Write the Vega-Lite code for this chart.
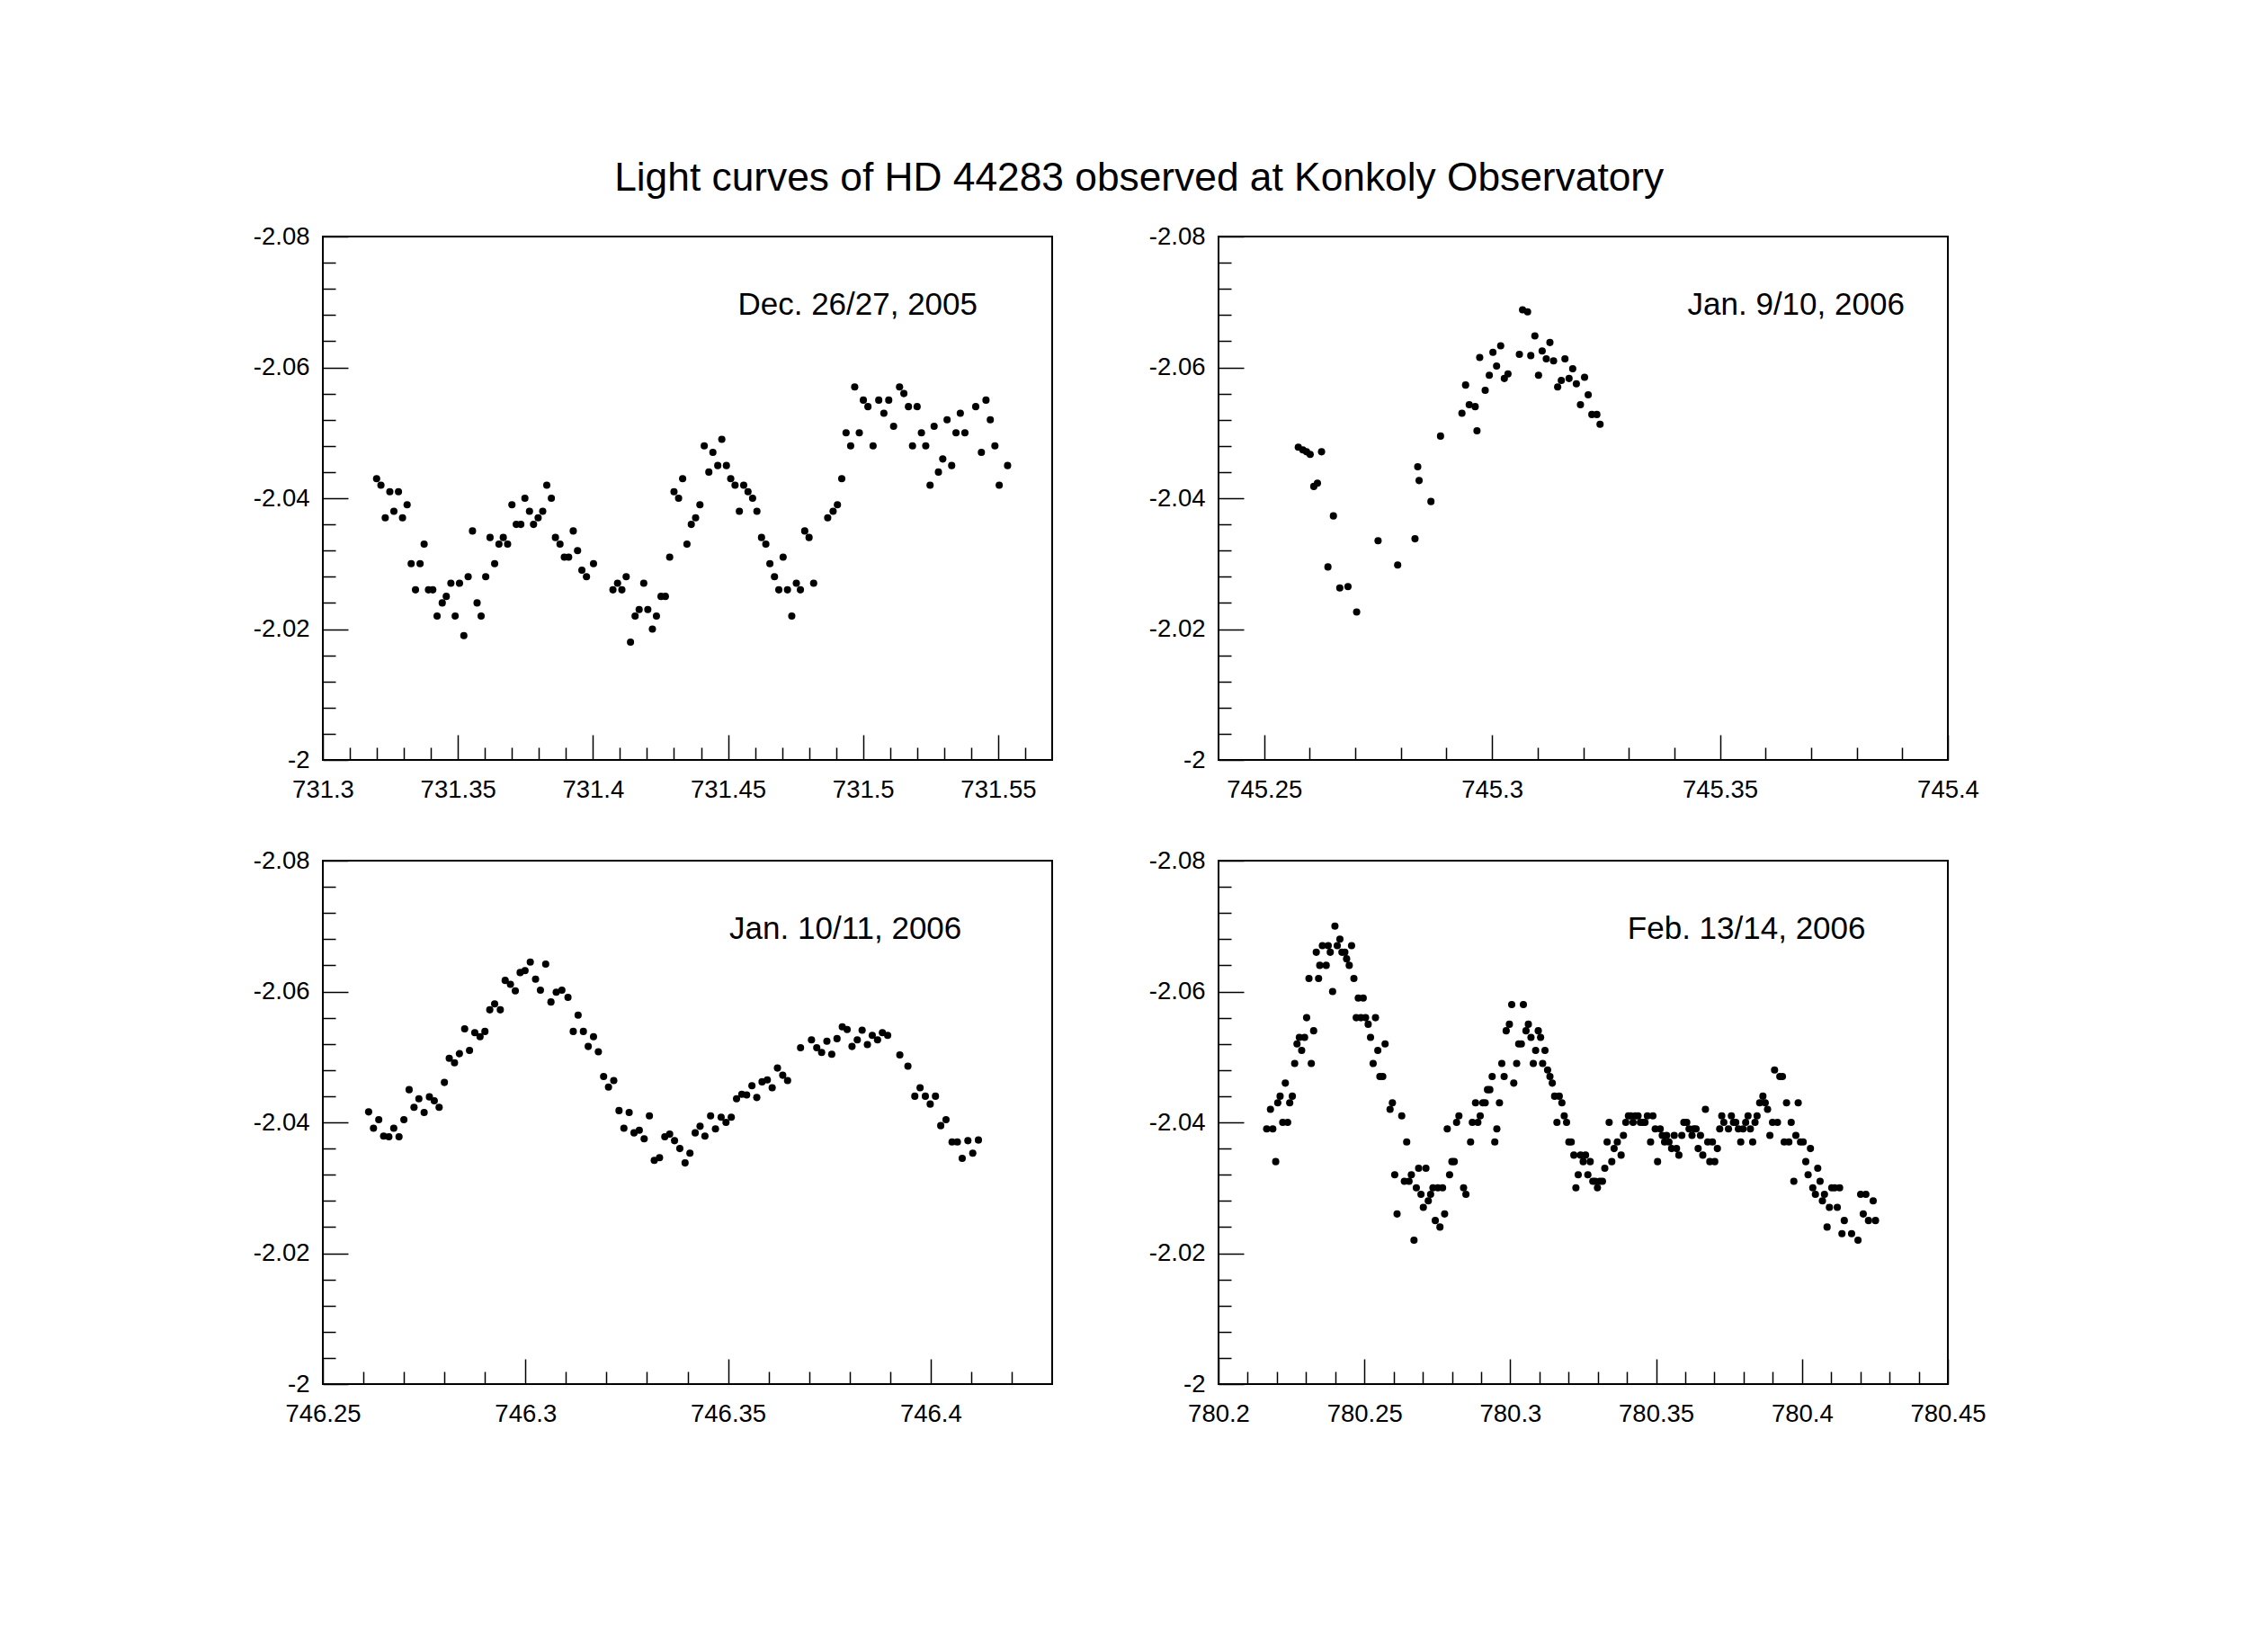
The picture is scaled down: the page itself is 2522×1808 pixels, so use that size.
{
"$schema": "https://vega.github.io/schema/vega-lite/v6.json",
"background": "white",
"padding": {"left": 280, "top": 176, "right": 10, "bottom": 10},
"title": {"text": "Light curves of HD 44283 observed at Konkoly Observatory", "fontSize": 44.3, "fontWeight": "normal", "font": "Liberation Sans", "color": "black", "anchor": "middle", "offset": 27, "dx": 22},
"bounds": "flush",
"columns": 2,
"spacing": {"row": 112, "column": 185},
"datasets": {
"p1": [
{"t":731.3199,"m":-2.043},{"t":731.3215,"m":-2.042},{"t":731.3231,"m":-2.037},{"t":731.3248,"m":-2.041},{"t":731.3263,"m":-2.038},{"t":731.3280,"m":-2.041},{"t":731.3295,"m":-2.037},{"t":731.3312,"m":-2.039},{"t":731.3327,"m":-2.030},{"t":731.3343,"m":-2.026},{"t":731.3360,"m":-2.030},{"t":731.3375,"m":-2.033},{"t":731.3391,"m":-2.026},{"t":731.3407,"m":-2.026},{"t":731.3423,"m":-2.022},{"t":731.3442,"m":-2.024},{"t":731.3457,"m":-2.025},{"t":731.3474,"m":-2.027},{"t":731.3490,"m":-2.022},{"t":731.3506,"m":-2.027},{"t":731.3522,"m":-2.019},{"t":731.3538,"m":-2.028},{"t":731.3554,"m":-2.035},{"t":731.3571,"m":-2.024},{"t":731.3586,"m":-2.022},{"t":731.3603,"m":-2.028},{"t":731.3619,"m":-2.034},{"t":731.3636,"m":-2.030},{"t":731.3652,"m":-2.033},{"t":731.3668,"m":-2.034},{"t":731.3684,"m":-2.033},{"t":731.3700,"m":-2.039},{"t":731.3716,"m":-2.036},{"t":731.3733,"m":-2.036},{"t":731.3748,"m":-2.040},{"t":731.3765,"m":-2.038},{"t":731.3780,"m":-2.036},{"t":731.3797,"m":-2.037},{"t":731.3814,"m":-2.038},{"t":731.3829,"m":-2.042},{"t":731.3846,"m":-2.040},{"t":731.3861,"m":-2.034},{"t":731.3878,"m":-2.033},{"t":731.3894,"m":-2.031},{"t":731.3910,"m":-2.031},{"t":731.3927,"m":-2.035},{"t":731.3943,"m":-2.032},{"t":731.3959,"m":-2.029},{"t":731.3976,"m":-2.028},{"t":731.4002,"m":-2.030},{"t":731.4074,"m":-2.026},{"t":731.4091,"m":-2.027},{"t":731.4107,"m":-2.026},{"t":731.4123,"m":-2.028},{"t":731.4139,"m":-2.018},{"t":731.4156,"m":-2.022},{"t":731.4171,"m":-2.023},{"t":731.4188,"m":-2.027},{"t":731.4203,"m":-2.023},{"t":731.4220,"m":-2.020},{"t":731.4235,"m":-2.022},{"t":731.4252,"m":-2.025},{"t":731.4268,"m":-2.025},{"t":731.4284,"m":-2.031},{"t":731.4300,"m":-2.041},{"t":731.4317,"m":-2.040},{"t":731.4332,"m":-2.043},{"t":731.4348,"m":-2.033},{"t":731.4364,"m":-2.036},{"t":731.4380,"m":-2.037},{"t":731.4396,"m":-2.039},{"t":731.4412,"m":-2.048},{"t":731.4429,"m":-2.044},{"t":731.4444,"m":-2.047},{"t":731.4462,"m":-2.045},{"t":731.4477,"m":-2.049},{"t":731.4494,"m":-2.045},{"t":731.4510,"m":-2.043},{"t":731.4526,"m":-2.042},{"t":731.4542,"m":-2.038},{"t":731.4558,"m":-2.042},{"t":731.4574,"m":-2.041},{"t":731.4591,"m":-2.040},{"t":731.4607,"m":-2.038},{"t":731.4624,"m":-2.034},{"t":731.4640,"m":-2.033},{"t":731.4655,"m":-2.030},{"t":731.4672,"m":-2.028},{"t":731.4688,"m":-2.026},{"t":731.4704,"m":-2.031},{"t":731.4720,"m":-2.026},{"t":731.4736,"m":-2.022},{"t":731.4753,"m":-2.027},{"t":731.4768,"m":-2.026},{"t":731.4784,"m":-2.035},{"t":731.4800,"m":-2.034},{"t":731.4817,"m":-2.027},{"t":731.4869,"m":-2.037},{"t":731.4889,"m":-2.038},{"t":731.4905,"m":-2.039},{"t":731.4921,"m":-2.043},{"t":731.4937,"m":-2.050},{"t":731.4954,"m":-2.048},{"t":731.4969,"m":-2.057},{"t":731.4986,"m":-2.050},{"t":731.5001,"m":-2.055},{"t":731.5018,"m":-2.054},{"t":731.5037,"m":-2.048},{"t":731.5058,"m":-2.055},{"t":731.5077,"m":-2.053},{"t":731.5095,"m":-2.055},{"t":731.5113,"m":-2.051},{"t":731.5135,"m":-2.057},{"t":731.5151,"m":-2.056},{"t":731.5168,"m":-2.054},{"t":731.5183,"m":-2.048},{"t":731.5200,"m":-2.054},{"t":731.5216,"m":-2.050},{"t":731.5232,"m":-2.048},{"t":731.5248,"m":-2.042},{"t":731.5263,"m":-2.051},{"t":731.5279,"m":-2.044},{"t":731.5295,"m":-2.046},{"t":731.5311,"m":-2.052},{"t":731.5328,"m":-2.045},{"t":731.5344,"m":-2.050},{"t":731.5360,"m":-2.053},{"t":731.5377,"m":-2.050},{"t":731.5417,"m":-2.054},{"t":731.5438,"m":-2.047},{"t":731.5455,"m":-2.055},{"t":731.5471,"m":-2.052},{"t":731.5488,"m":-2.048},{"t":731.5504,"m":-2.042},{"t":731.5535,"m":-2.045}
],
"p2": [
{"t":745.2575,"m":-2.0478},{"t":745.2585,"m":-2.0474},{"t":745.2593,"m":-2.0471},{"t":745.2601,"m":-2.0467},{"t":745.2609,"m":-2.0418},{"t":745.2617,"m":-2.0423},{"t":745.2626,"m":-2.0471},{"t":745.2640,"m":-2.0295},{"t":745.2652,"m":-2.0373},{"t":745.2666,"m":-2.0263},{"t":745.2684,"m":-2.0265},{"t":745.2703,"m":-2.0226},{"t":745.2750,"m":-2.0335},{"t":745.2793,"m":-2.0298},{"t":745.2831,"m":-2.0338},{"t":745.2837,"m":-2.0448},{"t":745.2840,"m":-2.0427},{"t":745.2866,"m":-2.0395},{"t":745.2887,"m":-2.0495},{"t":745.2934,"m":-2.0530},{"t":745.2942,"m":-2.0573},{"t":745.2950,"m":-2.0543},{"t":745.2963,"m":-2.0540},{"t":745.2967,"m":-2.0503},{"t":745.2973,"m":-2.0615},{"t":745.2985,"m":-2.0565},{"t":745.2994,"m":-2.0588},{"t":745.3002,"m":-2.0623},{"t":745.3010,"m":-2.0602},{"t":745.3019,"m":-2.0633},{"t":745.3027,"m":-2.0583},{"t":745.3035,"m":-2.0590},{"t":745.3060,"m":-2.0620},{"t":745.3067,"m":-2.0688},{"t":745.3078,"m":-2.0685},{"t":745.3085,"m":-2.0618},{"t":745.3094,"m":-2.0648},{"t":745.3102,"m":-2.0588},{"t":745.3110,"m":-2.0625},{"t":745.3119,"m":-2.0613},{"t":745.3127,"m":-2.0638},{"t":745.3135,"m":-2.0610},{"t":745.3144,"m":-2.0570},{"t":745.3152,"m":-2.0580},{"t":745.3160,"m":-2.0613},{"t":745.3169,"m":-2.0583},{"t":745.3177,"m":-2.0598},{"t":745.3185,"m":-2.0575},{"t":745.3194,"m":-2.0543},{"t":745.3203,"m":-2.0585},{"t":745.3211,"m":-2.0558},{"t":745.3219,"m":-2.0528},{"t":745.3230,"m":-2.0528},{"t":745.3237,"m":-2.0513}
],
"p3": [
{"t":746.2613,"m":-2.0416},{"t":746.2625,"m":-2.0391},{"t":746.2638,"m":-2.0404},{"t":746.2650,"m":-2.0379},{"t":746.2663,"m":-2.0378},{"t":746.2675,"m":-2.0391},{"t":746.2688,"m":-2.0378},{"t":746.2700,"m":-2.0404},{"t":746.2713,"m":-2.0450},{"t":746.2725,"m":-2.0423},{"t":746.2737,"m":-2.0436},{"t":746.2750,"m":-2.0415},{"t":746.2763,"m":-2.0439},{"t":746.2775,"m":-2.0433},{"t":746.2787,"m":-2.0423},{"t":746.2800,"m":-2.0461},{"t":746.2812,"m":-2.0498},{"t":746.2825,"m":-2.0491},{"t":746.2837,"m":-2.0505},{"t":746.2850,"m":-2.0543},{"t":746.2862,"m":-2.0510},{"t":746.2875,"m":-2.0537},{"t":746.2888,"m":-2.0531},{"t":746.2900,"m":-2.0539},{"t":746.2912,"m":-2.0572},{"t":746.2924,"m":-2.0581},{"t":746.2938,"m":-2.0572},{"t":746.2950,"m":-2.0617},{"t":746.2963,"m":-2.0611},{"t":746.2975,"m":-2.0601},{"t":746.2987,"m":-2.0629},{"t":746.2999,"m":-2.0632},{"t":746.3012,"m":-2.0645},{"t":746.3025,"m":-2.0619},{"t":746.3037,"m":-2.0602},{"t":746.3050,"m":-2.0642},{"t":746.3063,"m":-2.0584},{"t":746.3076,"m":-2.0599},{"t":746.3090,"m":-2.0602},{"t":746.3105,"m":-2.0591},{"t":746.3118,"m":-2.0539},{"t":746.3130,"m":-2.0564},{"t":746.3143,"m":-2.0539},{"t":746.3155,"m":-2.0516},{"t":746.3168,"m":-2.0531},{"t":746.3180,"m":-2.0508},{"t":746.3193,"m":-2.0470},{"t":746.3205,"m":-2.0454},{"t":746.3218,"m":-2.0464},{"t":746.3231,"m":-2.0418},{"t":746.3243,"m":-2.0391},{"t":746.3256,"m":-2.0415},{"t":746.3268,"m":-2.0384},{"t":746.3281,"m":-2.0388},{"t":746.3293,"m":-2.0375},{"t":746.3306,"m":-2.0410},{"t":746.3318,"m":-2.0342},{"t":746.3331,"m":-2.0346},{"t":746.3344,"m":-2.0378},{"t":746.3356,"m":-2.0382},{"t":746.3368,"m":-2.0372},{"t":746.3381,"m":-2.0360},{"t":746.3394,"m":-2.0338},{"t":746.3406,"m":-2.0353},{"t":746.3419,"m":-2.0384},{"t":746.3431,"m":-2.0394},{"t":746.3443,"m":-2.0379},{"t":746.3457,"m":-2.0410},{"t":746.3469,"m":-2.0390},{"t":746.3483,"m":-2.0408},{"t":746.3495,"m":-2.0400},{"t":746.3508,"m":-2.0408},{"t":746.3521,"m":-2.0436},{"t":746.3534,"m":-2.0443},{"t":746.3546,"m":-2.0442},{"t":746.3559,"m":-2.0456},{"t":746.3571,"m":-2.0438},{"t":746.3584,"m":-2.0462},{"t":746.3597,"m":-2.0465},{"t":746.3609,"m":-2.0453},{"t":746.3622,"m":-2.0483},{"t":746.3635,"m":-2.0472},{"t":746.3647,"m":-2.0464},{"t":746.3679,"m":-2.0514},{"t":746.3706,"m":-2.0526},{"t":746.3719,"m":-2.0514},{"t":746.3731,"m":-2.0507},{"t":746.3744,"m":-2.0524},{"t":746.3756,"m":-2.0504},{"t":746.3769,"m":-2.0528},{"t":746.3782,"m":-2.0546},{"t":746.3794,"m":-2.0542},{"t":746.3806,"m":-2.0516},{"t":746.3819,"m":-2.0526},{"t":746.3831,"m":-2.0541},{"t":746.3844,"m":-2.0519},{"t":746.3856,"m":-2.0533},{"t":746.3869,"m":-2.0526},{"t":746.3881,"m":-2.0537},{"t":746.3894,"m":-2.0533},{"t":746.3924,"m":-2.0503},{"t":746.3944,"m":-2.0486},{"t":746.3961,"m":-2.0440},{"t":746.3974,"m":-2.0453},{"t":746.3987,"m":-2.0440},{"t":746.3999,"m":-2.0428},{"t":746.4012,"m":-2.0440},{"t":746.4025,"m":-2.0395},{"t":746.4038,"m":-2.0404},{"t":746.4053,"m":-2.0370},{"t":746.4066,"m":-2.0370},{"t":746.4078,"m":-2.0345},{"t":746.4092,"m":-2.0372},{"t":746.4104,"m":-2.0353},{"t":746.4118,"m":-2.0373}
],
"p4": [
{"t":780.2165,"m":-2.039},{"t":780.2186,"m":-2.039},{"t":780.2178,"m":-2.042},{"t":780.2196,"m":-2.034},{"t":780.2203,"m":-2.043},{"t":780.2211,"m":-2.044},{"t":780.2220,"m":-2.040},{"t":780.2229,"m":-2.046},{"t":780.2237,"m":-2.040},{"t":780.2244,"m":-2.043},{"t":780.2253,"m":-2.044},{"t":780.2261,"m":-2.049},{"t":780.2269,"m":-2.052},{"t":780.2277,"m":-2.053},{"t":780.2285,"m":-2.051},{"t":780.2295,"m":-2.053},{"t":780.2302,"m":-2.056},{"t":780.2310,"m":-2.062},{"t":780.2318,"m":-2.049},{"t":780.2326,"m":-2.054},{"t":780.2335,"m":-2.066},{"t":780.2343,"m":-2.062},{"t":780.2347,"m":-2.064},{"t":780.2356,"m":-2.067},{"t":780.2369,"m":-2.064},{"t":780.2376,"m":-2.067},{"t":780.2383,"m":-2.066},{"t":780.2391,"m":-2.060},{"t":780.2399,"m":-2.070},{"t":780.2407,"m":-2.067},{"t":780.2416,"m":-2.068},{"t":780.2423,"m":-2.066},{"t":780.2433,"m":-2.066},{"t":780.2439,"m":-2.065},{"t":780.2448,"m":-2.064},{"t":780.2456,"m":-2.067},{"t":780.2464,"m":-2.062},{"t":780.2479,"m":-2.059},{"t":780.2496,"m":-2.059},{"t":780.2472,"m":-2.056},{"t":780.2488,"m":-2.056},{"t":780.2504,"m":-2.056},{"t":780.2513,"m":-2.055},{"t":780.2521,"m":-2.053},{"t":780.2538,"m":-2.056},{"t":780.2530,"m":-2.049},{"t":780.2546,"m":-2.051},{"t":780.2553,"m":-2.047},{"t":780.2563,"m":-2.047},{"t":780.2571,"m":-2.052},{"t":780.2588,"m":-2.042},{"t":780.2596,"m":-2.043},{"t":780.2604,"m":-2.032},{"t":780.2612,"m":-2.026},{"t":780.2628,"m":-2.041},{"t":780.2637,"m":-2.031},{"t":780.2645,"m":-2.037},{"t":780.2653,"m":-2.031},{"t":780.2661,"m":-2.032},{"t":780.2670,"m":-2.022},{"t":780.2678,"m":-2.030},{"t":780.2686,"m":-2.033},{"t":780.2694,"m":-2.029},{"t":780.2702,"m":-2.027},{"t":780.2711,"m":-2.033},{"t":780.2719,"m":-2.028},{"t":780.2727,"m":-2.029},{"t":780.2735,"m":-2.030},{"t":780.2743,"m":-2.025},{"t":780.2752,"m":-2.030},{"t":780.2759,"m":-2.024},{"t":780.2768,"m":-2.030},{"t":780.2775,"m":-2.026},{"t":780.2784,"m":-2.039},{"t":780.2792,"m":-2.032},{"t":780.2800,"m":-2.034},{"t":780.2808,"m":-2.034},{"t":780.2816,"m":-2.040},{"t":780.2824,"m":-2.041},{"t":780.2840,"m":-2.030},{"t":780.2848,"m":-2.029},{"t":780.2864,"m":-2.037},{"t":780.2870,"m":-2.040},{"t":780.2881,"m":-2.043},{"t":780.2889,"m":-2.040},{"t":780.2897,"m":-2.041},{"t":780.2906,"m":-2.043},{"t":780.2914,"m":-2.043},{"t":780.2922,"m":-2.045},{"t":780.2930,"m":-2.045},{"t":780.2938,"m":-2.047},{"t":780.2947,"m":-2.037},{"t":780.2954,"m":-2.039},{"t":780.2963,"m":-2.043},{"t":780.2971,"m":-2.049},{"t":780.2979,"m":-2.047},{"t":780.2986,"m":-2.054},{"t":780.2997,"m":-2.055},{"t":780.3005,"m":-2.058},{"t":780.3012,"m":-2.046},{"t":780.3022,"m":-2.049},{"t":780.3029,"m":-2.052},{"t":780.3038,"m":-2.052},{"t":780.3045,"m":-2.058},{"t":780.3054,"m":-2.054},{"t":780.3062,"m":-2.055},{"t":780.3071,"m":-2.053},{"t":780.3079,"m":-2.049},{"t":780.3087,"m":-2.051},{"t":780.3096,"m":-2.054},{"t":780.3104,"m":-2.053},{"t":780.3111,"m":-2.049},{"t":780.3119,"m":-2.051},{"t":780.3128,"m":-2.048},{"t":780.3136,"m":-2.047},{"t":780.3144,"m":-2.046},{"t":780.3152,"m":-2.044},{"t":780.3160,"m":-2.040},{"t":780.3168,"m":-2.044},{"t":780.3177,"m":-2.043},{"t":780.3185,"m":-2.041},{"t":780.3193,"m":-2.040},{"t":780.3201,"m":-2.037},{"t":780.3209,"m":-2.037},{"t":780.3218,"m":-2.035},{"t":780.3225,"m":-2.030},{"t":780.3233,"m":-2.032},{"t":780.3241,"m":-2.035},{"t":780.3250,"m":-2.034},{"t":780.3258,"m":-2.035},{"t":780.3266,"m":-2.032},{"t":780.3274,"m":-2.034},{"t":780.3283,"m":-2.031},{"t":780.3291,"m":-2.031},{"t":780.3299,"m":-2.030},{"t":780.3307,"m":-2.031},{"t":780.3316,"m":-2.031},{"t":780.3324,"m":-2.033},{"t":780.3332,"m":-2.037},{"t":780.3339,"m":-2.040},{"t":780.3348,"m":-2.034},{"t":780.3356,"m":-2.036},{"t":780.3367,"m":-2.037},{"t":780.3380,"m":-2.035},{"t":780.3388,"m":-2.038},{"t":780.3396,"m":-2.040},{"t":780.3405,"m":-2.041},{"t":780.3413,"m":-2.041},{"t":780.3421,"m":-2.040},{"t":780.3429,"m":-2.041},{"t":780.3438,"m":-2.041},{"t":780.3446,"m":-2.040},{"t":780.3454,"m":-2.040},{"t":780.3462,"m":-2.040},{"t":780.3470,"m":-2.041},{"t":780.3481,"m":-2.037},{"t":780.3489,"m":-2.041},{"t":780.3497,"m":-2.039},{"t":780.3505,"m":-2.034},{"t":780.3514,"m":-2.039},{"t":780.3521,"m":-2.038},{"t":780.3529,"m":-2.037},{"t":780.3536,"m":-2.038},{"t":780.3544,"m":-2.037},{"t":780.3553,"m":-2.036},{"t":780.3562,"m":-2.038},{"t":780.3570,"m":-2.036},{"t":780.3578,"m":-2.035},{"t":780.3588,"m":-2.038},{"t":780.3595,"m":-2.040},{"t":780.3605,"m":-2.040},{"t":780.3613,"m":-2.039},{"t":780.3623,"m":-2.038},{"t":780.3629,"m":-2.039},{"t":780.3637,"m":-2.039},{"t":780.3644,"m":-2.036},{"t":780.3652,"m":-2.038},{"t":780.3660,"m":-2.035},{"t":780.3669,"m":-2.042},{"t":780.3677,"m":-2.037},{"t":780.3684,"m":-2.034},{"t":780.3693,"m":-2.037},{"t":780.3701,"m":-2.034},{"t":780.3710,"m":-2.036},{"t":780.3718,"m":-2.039},{"t":780.3725,"m":-2.041},{"t":780.3732,"m":-2.040},{"t":780.3748,"m":-2.039},{"t":780.3758,"m":-2.041},{"t":780.3765,"m":-2.040},{"t":780.3773,"m":-2.040},{"t":780.3782,"m":-2.039},{"t":780.3790,"m":-2.037},{"t":780.3798,"m":-2.039},{"t":780.3807,"m":-2.040},{"t":780.3815,"m":-2.041},{"t":780.3823,"m":-2.039},{"t":780.3831,"m":-2.037},{"t":780.3839,"m":-2.040},{"t":780.3846,"m":-2.041},{"t":780.3855,"m":-2.043},{"t":780.3866,"m":-2.044},{"t":780.3874,"m":-2.043},{"t":780.3882,"m":-2.042},{"t":780.3890,"m":-2.038},{"t":780.3899,"m":-2.040},{"t":780.3906,"m":-2.048},{"t":780.3916,"m":-2.040},{"t":780.3924,"m":-2.047},{"t":780.3933,"m":-2.047},{"t":780.3939,"m":-2.037},{"t":780.3947,"m":-2.043},{"t":780.3955,"m":-2.037},{"t":780.3963,"m":-2.040},{"t":780.3972,"m":-2.031},{"t":780.3979,"m":-2.038},{"t":780.3987,"m":-2.043},{"t":780.3995,"m":-2.037},{"t":780.4004,"m":-2.037},{"t":780.4013,"m":-2.034},{"t":780.4021,"m":-2.032},{"t":780.4029,"m":-2.036},{"t":780.4037,"m":-2.030},{"t":780.4046,"m":-2.029},{"t":780.4054,"m":-2.033},{"t":780.4062,"m":-2.031},{"t":780.4070,"m":-2.028},{"t":780.4077,"m":-2.029},{"t":780.4086,"m":-2.024},{"t":780.4094,"m":-2.027},{"t":780.4102,"m":-2.030},{"t":780.4112,"m":-2.030},{"t":780.4121,"m":-2.027},{"t":780.4129,"m":-2.030},{"t":780.4137,"m":-2.023},{"t":780.4145,"m":-2.025},{"t":780.4170,"m":-2.023},{"t":780.4192,"m":-2.022},{"t":780.4201,"m":-2.029},{"t":780.4210,"m":-2.026},{"t":780.4219,"m":-2.029},{"t":780.4228,"m":-2.025},{"t":780.4244,"m":-2.028},{"t":780.4252,"m":-2.025}
]
},
"concat": [
{
"width": 811, "height": 582,
"resolve": {"axis": {"x": "independent", "y": "independent"}},
"layer": [
{"data": {"name": "p1"}, "mark": {"type": "circle", "size": 65, "color": "black", "opacity": 1},
 "encoding": {
  "x": {"field": "t", "type": "quantitative", "scale": {"domain": [731.3, 731.57], "nice": false, "zero": false},
        "axis": {"orient": "bottom", "values": [731.3, 731.35, 731.4, 731.45, 731.5, 731.55], "ticks": false, "domain": false, "labelExpr": "toString(datum.value)", "labelFlush": false, "labelOverlap": false, "labelPadding": 19, "title": null}},
  "y": {"field": "m", "type": "quantitative", "scale": {"domain": [-2.08, -2], "reverse": true, "nice": false, "zero": false},
        "axis": {"orient": "left", "values": [-2.08, -2.06, -2.04, -2.02, -2], "ticks": false, "domain": false, "labelExpr": "toString(datum.value)", "labelFlush": false, "labelOverlap": false, "labelPadding": 15, "title": null}}
 }},
{"data": {"values": [{"t": 731.498, "m": -2.068, "label": "Dec. 26/27, 2005"}]}, "mark": {"type": "text", "fontSize": 35, "font": "Liberation Sans", "color": "black", "align": "center", "baseline": "alphabetic"},
 "encoding": {
  "x": {"field": "t", "type": "quantitative", "scale": {"domain": [731.3, 731.57], "nice": false, "zero": false},
        "axis": {"orient": "bottom", "values": [731.3, 731.35, 731.4, 731.45, 731.5, 731.55], "labels": false, "domain": false, "ticks": true, "tickSize": 28, "offset": -28, "title": null}},
  "y": {"field": "m", "type": "quantitative", "scale": {"domain": [-2.08, -2], "reverse": true, "nice": false, "zero": false},
        "axis": {"orient": "left", "values": [-2.08, -2.06, -2.04, -2.02, -2], "labels": false, "domain": false, "ticks": true, "tickSize": 28, "offset": -28, "title": null}},
  "text": {"field": "label"}
 }},
{"data": {"name": "p1"}, "mark": {"type": "circle", "opacity": 0},
 "encoding": {
  "x": {"field": "t", "type": "quantitative", "scale": {"domain": [731.3, 731.57], "nice": false, "zero": false},
        "axis": {"orient": "bottom", "values": [731.31, 731.32, 731.33, 731.34, 731.36, 731.37, 731.38, 731.39, 731.41, 731.42, 731.43, 731.44, 731.46, 731.47, 731.48, 731.49, 731.51, 731.52, 731.53, 731.54, 731.56], "labels": false, "domain": false, "ticks": true, "tickSize": 14, "offset": -14, "title": null}},
  "y": {"field": "m", "type": "quantitative", "scale": {"domain": [-2.08, -2], "reverse": true, "nice": false, "zero": false},
        "axis": {"orient": "left", "values": [-2.076, -2.072, -2.068, -2.064, -2.056, -2.052, -2.048, -2.044, -2.036, -2.032, -2.028, -2.024, -2.016, -2.012, -2.008, -2.004], "labels": false, "domain": false, "ticks": true, "tickSize": 14, "offset": -14, "title": null}}
 }}
]
},
{
"width": 811, "height": 582,
"resolve": {"axis": {"x": "independent", "y": "independent"}},
"layer": [
{"data": {"name": "p2"}, "mark": {"type": "circle", "size": 65, "color": "black", "opacity": 1},
 "encoding": {
  "x": {"field": "t", "type": "quantitative", "scale": {"domain": [745.24, 745.4], "nice": false, "zero": false},
        "axis": {"orient": "bottom", "values": [745.25, 745.3, 745.35, 745.4], "ticks": false, "domain": false, "labelExpr": "toString(datum.value)", "labelFlush": false, "labelOverlap": false, "labelPadding": 19, "title": null}},
  "y": {"field": "m", "type": "quantitative", "scale": {"domain": [-2.08, -2], "reverse": true, "nice": false, "zero": false},
        "axis": {"orient": "left", "values": [-2.08, -2.06, -2.04, -2.02, -2], "ticks": false, "domain": false, "labelExpr": "toString(datum.value)", "labelFlush": false, "labelOverlap": false, "labelPadding": 15, "title": null}}
 }},
{"data": {"values": [{"t": 745.3667, "m": -2.068, "label": "Jan. 9/10, 2006"}]}, "mark": {"type": "text", "fontSize": 35, "font": "Liberation Sans", "color": "black", "align": "center", "baseline": "alphabetic"},
 "encoding": {
  "x": {"field": "t", "type": "quantitative", "scale": {"domain": [745.24, 745.4], "nice": false, "zero": false},
        "axis": {"orient": "bottom", "values": [745.25, 745.3, 745.35, 745.4], "labels": false, "domain": false, "ticks": true, "tickSize": 28, "offset": -28, "title": null}},
  "y": {"field": "m", "type": "quantitative", "scale": {"domain": [-2.08, -2], "reverse": true, "nice": false, "zero": false},
        "axis": {"orient": "left", "values": [-2.08, -2.06, -2.04, -2.02, -2], "labels": false, "domain": false, "ticks": true, "tickSize": 28, "offset": -28, "title": null}},
  "text": {"field": "label"}
 }},
{"data": {"name": "p2"}, "mark": {"type": "circle", "opacity": 0},
 "encoding": {
  "x": {"field": "t", "type": "quantitative", "scale": {"domain": [745.24, 745.4], "nice": false, "zero": false},
        "axis": {"orient": "bottom", "values": [745.26, 745.27, 745.28, 745.29, 745.31, 745.32, 745.33, 745.34, 745.36, 745.37, 745.38, 745.39], "labels": false, "domain": false, "ticks": true, "tickSize": 14, "offset": -14, "title": null}},
  "y": {"field": "m", "type": "quantitative", "scale": {"domain": [-2.08, -2], "reverse": true, "nice": false, "zero": false},
        "axis": {"orient": "left", "values": [-2.076, -2.072, -2.068, -2.064, -2.056, -2.052, -2.048, -2.044, -2.036, -2.032, -2.028, -2.024, -2.016, -2.012, -2.008, -2.004], "labels": false, "domain": false, "ticks": true, "tickSize": 14, "offset": -14, "title": null}}
 }}
]
},
{
"width": 811, "height": 582,
"resolve": {"axis": {"x": "independent", "y": "independent"}},
"layer": [
{"data": {"name": "p3"}, "mark": {"type": "circle", "size": 65, "color": "black", "opacity": 1},
 "encoding": {
  "x": {"field": "t", "type": "quantitative", "scale": {"domain": [746.25, 746.43], "nice": false, "zero": false},
        "axis": {"orient": "bottom", "values": [746.25, 746.3, 746.35, 746.4], "ticks": false, "domain": false, "labelExpr": "toString(datum.value)", "labelFlush": false, "labelOverlap": false, "labelPadding": 19, "title": null}},
  "y": {"field": "m", "type": "quantitative", "scale": {"domain": [-2.08, -2], "reverse": true, "nice": false, "zero": false},
        "axis": {"orient": "left", "values": [-2.08, -2.06, -2.04, -2.02, -2], "ticks": false, "domain": false, "labelExpr": "toString(datum.value)", "labelFlush": false, "labelOverlap": false, "labelPadding": 15, "title": null}}
 }},
{"data": {"values": [{"t": 746.379, "m": -2.068, "label": "Jan. 10/11, 2006"}]}, "mark": {"type": "text", "fontSize": 35, "font": "Liberation Sans", "color": "black", "align": "center", "baseline": "alphabetic"},
 "encoding": {
  "x": {"field": "t", "type": "quantitative", "scale": {"domain": [746.25, 746.43], "nice": false, "zero": false},
        "axis": {"orient": "bottom", "values": [746.25, 746.3, 746.35, 746.4], "labels": false, "domain": false, "ticks": true, "tickSize": 28, "offset": -28, "title": null}},
  "y": {"field": "m", "type": "quantitative", "scale": {"domain": [-2.08, -2], "reverse": true, "nice": false, "zero": false},
        "axis": {"orient": "left", "values": [-2.08, -2.06, -2.04, -2.02, -2], "labels": false, "domain": false, "ticks": true, "tickSize": 28, "offset": -28, "title": null}},
  "text": {"field": "label"}
 }},
{"data": {"name": "p3"}, "mark": {"type": "circle", "opacity": 0},
 "encoding": {
  "x": {"field": "t", "type": "quantitative", "scale": {"domain": [746.25, 746.43], "nice": false, "zero": false},
        "axis": {"orient": "bottom", "values": [746.26, 746.27, 746.28, 746.29, 746.31, 746.32, 746.33, 746.34, 746.36, 746.37, 746.38, 746.39, 746.41, 746.42], "labels": false, "domain": false, "ticks": true, "tickSize": 14, "offset": -14, "title": null}},
  "y": {"field": "m", "type": "quantitative", "scale": {"domain": [-2.08, -2], "reverse": true, "nice": false, "zero": false},
        "axis": {"orient": "left", "values": [-2.076, -2.072, -2.068, -2.064, -2.056, -2.052, -2.048, -2.044, -2.036, -2.032, -2.028, -2.024, -2.016, -2.012, -2.008, -2.004], "labels": false, "domain": false, "ticks": true, "tickSize": 14, "offset": -14, "title": null}}
 }}
]
},
{
"width": 811, "height": 582,
"resolve": {"axis": {"x": "independent", "y": "independent"}},
"layer": [
{"data": {"name": "p4"}, "mark": {"type": "circle", "size": 65, "color": "black", "opacity": 1},
 "encoding": {
  "x": {"field": "t", "type": "quantitative", "scale": {"domain": [780.2, 780.45], "nice": false, "zero": false},
        "axis": {"orient": "bottom", "values": [780.2, 780.25, 780.3, 780.35, 780.4, 780.45], "ticks": false, "domain": false, "labelExpr": "toString(datum.value)", "labelFlush": false, "labelOverlap": false, "labelPadding": 19, "title": null}},
  "y": {"field": "m", "type": "quantitative", "scale": {"domain": [-2.08, -2], "reverse": true, "nice": false, "zero": false},
        "axis": {"orient": "left", "values": [-2.08, -2.06, -2.04, -2.02, -2], "ticks": false, "domain": false, "labelExpr": "toString(datum.value)", "labelFlush": false, "labelOverlap": false, "labelPadding": 15, "title": null}}
 }},
{"data": {"values": [{"t": 780.381, "m": -2.068, "label": "Feb. 13/14, 2006"}]}, "mark": {"type": "text", "fontSize": 35, "font": "Liberation Sans", "color": "black", "align": "center", "baseline": "alphabetic"},
 "encoding": {
  "x": {"field": "t", "type": "quantitative", "scale": {"domain": [780.2, 780.45], "nice": false, "zero": false},
        "axis": {"orient": "bottom", "values": [780.2, 780.25, 780.3, 780.35, 780.4, 780.45], "labels": false, "domain": false, "ticks": true, "tickSize": 28, "offset": -28, "title": null}},
  "y": {"field": "m", "type": "quantitative", "scale": {"domain": [-2.08, -2], "reverse": true, "nice": false, "zero": false},
        "axis": {"orient": "left", "values": [-2.08, -2.06, -2.04, -2.02, -2], "labels": false, "domain": false, "ticks": true, "tickSize": 28, "offset": -28, "title": null}},
  "text": {"field": "label"}
 }},
{"data": {"name": "p4"}, "mark": {"type": "circle", "opacity": 0},
 "encoding": {
  "x": {"field": "t", "type": "quantitative", "scale": {"domain": [780.2, 780.45], "nice": false, "zero": false},
        "axis": {"orient": "bottom", "values": [780.21, 780.22, 780.23, 780.24, 780.26, 780.27, 780.28, 780.29, 780.31, 780.32, 780.33, 780.34, 780.36, 780.37, 780.38, 780.39, 780.41, 780.42, 780.43, 780.44], "labels": false, "domain": false, "ticks": true, "tickSize": 14, "offset": -14, "title": null}},
  "y": {"field": "m", "type": "quantitative", "scale": {"domain": [-2.08, -2], "reverse": true, "nice": false, "zero": false},
        "axis": {"orient": "left", "values": [-2.076, -2.072, -2.068, -2.064, -2.056, -2.052, -2.048, -2.044, -2.036, -2.032, -2.028, -2.024, -2.016, -2.012, -2.008, -2.004], "labels": false, "domain": false, "ticks": true, "tickSize": 14, "offset": -14, "title": null}}
 }}
]
}
],
"config": {
  "font": "Liberation Sans",
  "view": {"stroke": "black", "strokeWidth": 2},
  "axis": {"labelFont": "Liberation Sans", "labelFontSize": 27.5, "labelColor": "black", "grid": false, "tickColor": "black", "tickWidth": 1.5, "domainColor": "black"}
}
}
